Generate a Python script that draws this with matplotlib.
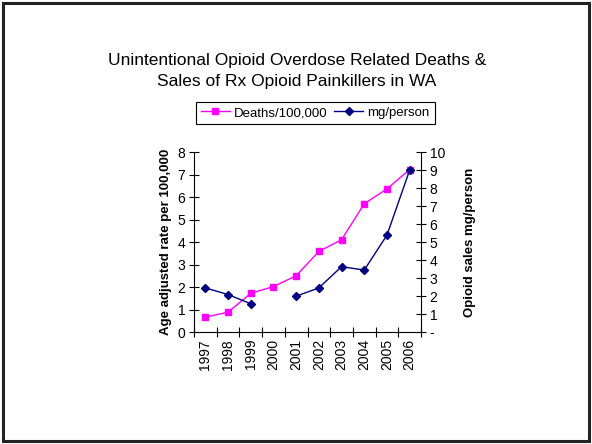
import numpy as np
import matplotlib
matplotlib.use("Agg")
import matplotlib.pyplot as plt
from matplotlib.patches import Rectangle

plt.rcParams['font.family'] = ['Liberation Sans', 'DejaVu Sans']

years = ['1997', '1998', '1999', '2000', '2001', '2002', '2003', '2004', '2005', '2006']
deaths = [0.66, 0.88, 1.72, 2.02, 2.50, 3.58, 4.10, 5.70, 6.36, 7.22]
mg_person = [2.45, 2.08, 1.57, np.nan, 1.99, 2.45, 3.63, 3.44, 5.38, 8.99]
left_ticks = [0, 1, 2, 3, 4, 5, 6, 7, 8]
right_ticks = [0, 1, 2, 3, 4, 5, 6, 7, 8, 9, 10]
right_labels = ['-', '1', '2', '3', '4', '5', '6', '7', '8', '9', '10']

W, H = 592, 444
fig = plt.figure(figsize=(W / 100, H / 100), dpi=100)
fig.patch.set_facecolor('white')

# slide frame
fig.patches.append(Rectangle((3 / W, 3 / H), (589 - 3) / W, (441 - 3) / H,
                             transform=fig.transFigure, fill=False,
                             edgecolor='#222222', linewidth=2.2))

ax = fig.add_axes([194 / W, 1 - 332 / H, (421 - 194) / W, (332 - 152) / H])
ax2 = ax.twinx()

x = np.arange(len(years))
l1, = ax.plot(x, deaths, color='#FF00FF', marker='s', markersize=4.5,
              linewidth=1.0, label='Deaths/100,000', zorder=3)
l2, = ax2.plot(x, mg_person, color='#000080', marker='D', markersize=4,
               linewidth=1.0, label='mg/person', zorder=3)

ax.set_xlim(-0.5, len(years) - 0.5)
ax.set_ylim(0, 8)
ax2.set_ylim(0, 10)

for a in (ax, ax2):
    a.spines['top'].set_visible(False)
    a.set_facecolor('none')
ax.spines['right'].set_visible(False)
ax2.spines['left'].set_visible(False)
ax2.spines['bottom'].set_visible(False)

ax.set_yticks(left_ticks)
ax.set_yticklabels([str(t) for t in left_ticks])
ax2.set_yticks(right_ticks)
ax2.set_yticklabels(right_labels)

ax.set_xticks(np.arange(-0.5, len(years), 1.0))
ax.set_xticklabels([])
ax.set_xticks(x, minor=True)
ax.set_xticklabels(years, minor=True, rotation=90)
ax.tick_params(axis='x', which='minor', length=0, labelsize=10, pad=5)
ax.tick_params(axis='x', which='major', direction='inout', length=6.5, width=0.8)
ax.tick_params(axis='y', direction='inout', length=6.5, width=0.8, labelsize=10, pad=3)
ax2.tick_params(axis='y', direction='inout', length=6.5, width=0.8, labelsize=10, pad=3)

ax.set_ylabel('Age adjusted rate per 100,000', fontsize=9.5, fontweight='bold', labelpad=4)
ax2.set_ylabel('Opioid sales mg/person', fontsize=9.5, fontweight='bold', labelpad=14)

fig.text(297 / W, 1 - 71 / H,
         'Unintentional Opioid Overdose Related Deaths &\nSales of Rx Opioid Painkillers in WA',
         ha='center', va='center', fontsize=12.5, linespacing=1.45)

leg = fig.legend([l1, l2], ['Deaths/100,000', 'mg/person'], loc='center',
                 bbox_to_anchor=(315 / W, 1 - 113 / H), ncol=2, fancybox=False,
                 edgecolor='black', fontsize=9.5, handlelength=2.2,
                 columnspacing=0.5, handletextpad=0.3, borderpad=0.4,
                 borderaxespad=0, framealpha=1)
leg.get_frame().set_linewidth(0.8)

fig.savefig('out.png', dpi=100)
